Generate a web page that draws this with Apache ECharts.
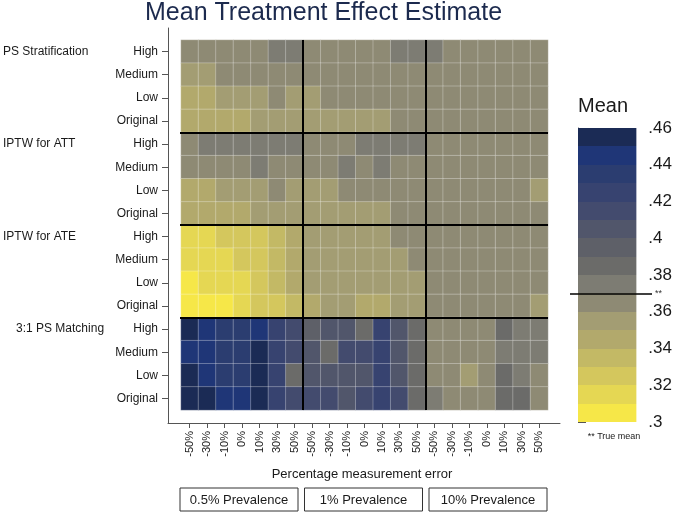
<!DOCTYPE html>
<html><head><meta charset="utf-8">
<script src="https://cdn.jsdelivr.net/npm/echarts@6/dist/echarts.min.js"></script>
<style>html,body{margin:0;padding:0;background:#fff}#c{width:675px;height:515px}</style>
</head><body><div id="c"></div>
<script>
// ---------- data ----------
const methods = ['PS Stratification', 'IPTW for ATT', 'IPTW for ATE', '3:1 PS Matching'];
const levels = ['High', 'Medium', 'Low', 'Original'];
const errorLabels = ['-50%', '-30%', '-10%', '0%', '10%', '30%', '50%'];
const prevalences = ['0.5% Prevalence', '1% Prevalence', '10% Prevalence'];

// each row: 21 values = 3 prevalences x 7 measurement-error levels
const psStratification = [
  [.366,.365,.366,.364,.366,.377,.376, .365,.366,.365,.366,.364,.377,.376, .376,.366,.365,.366,.365,.366,.365],
  [.355,.354,.365,.365,.366,.365,.364, .365,.365,.366,.365,.365,.364,.365, .365,.366,.365,.365,.366,.365,.365],
  [.345,.346,.357,.356,.356,.366,.354, .353,.365,.366,.365,.365,.365,.365, .365,.365,.366,.365,.365,.365,.365],
  [.343,.344,.343,.344,.355,.356,.355, .356,.353,.352,.353,.352,.365,.365, .365,.366,.365,.365,.365,.366,.365]
];
const iptwATT = [
  [.366,.377,.378,.377,.377,.378,.377, .366,.365,.366,.377,.376,.378,.377, .366,.365,.366,.365,.366,.365,.366],
  [.365,.366,.365,.366,.378,.366,.365, .365,.366,.377,.366,.377,.366,.365, .365,.366,.365,.365,.366,.365,.366],
  [.345,.345,.356,.355,.353,.366,.355, .356,.356,.368,.362,.362,.365,.366, .365,.366,.365,.365,.366,.365,.352],
  [.346,.345,.346,.347,.357,.358,.357, .356,.357,.356,.357,.352,.365,.366, .365,.365,.366,.365,.365,.366,.365]
];
const iptwATE = [
  [.314,.315,.325,.324,.326,.336,.345, .354,.355,.355,.354,.352,.365,.366, .365,.366,.365,.365,.366,.365,.365],
  [.315,.316,.316,.325,.326,.334,.346, .354,.355,.354,.355,.352,.352,.365, .365,.366,.365,.365,.365,.366,.365],
  [.305,.314,.316,.315,.325,.334,.345, .354,.355,.354,.354,.351,.352,.351, .365,.365,.366,.365,.365,.366,.365],
  [.305,.304,.306,.314,.324,.326,.335, .345,.352,.356,.345,.344,.352,.353, .365,.366,.365,.365,.366,.365,.352]
];
const psMatching = [
  [.455,.445,.435,.436,.445,.425,.415, .395,.405,.404,.386,.426,.405,.386, .366,.365,.365,.366,.385,.376,.375],
  [.445,.446,.435,.434,.455,.425,.416, .405,.386,.415,.414,.426,.405,.386, .366,.365,.366,.365,.376,.375,.376],
  [.456,.445,.435,.434,.455,.425,.386, .405,.404,.404,.405,.427,.405,.386, .366,.365,.355,.366,.385,.376,.365],
  [.456,.457,.445,.446,.455,.425,.415, .416,.415,.405,.416,.427,.415,.386, .376,.366,.365,.366,.385,.386,.365]
];

// colour bins of the legend (.30 to .46 in steps of .01)
const binEdges = [.30,.31,.32,.33,.34,.35,.36,.37,.38,.39,.40,.41,.42,.43,.44,.45,.46];
const binColors = ['#f6e748','#e5d753','#d4c75d','#c3b965','#b2a96c','#a39d73','#8e8a74','#7d7c73',
                   '#6b6b69','#5e6068','#51566b','#434b6e','#374370','#2b3d70','#1f3677','#1b2b55'];
const trueMean = 0.3675;

// ---------- build ----------
const blocks = [psStratification, iptwATT, iptwATE, psMatching];
const rowKeys = [];
methods.forEach(m => levels.forEach(l => rowKeys.push(m + '|' + l)));
const colKeys = [];
prevalences.forEach(p => errorLabels.forEach(e => colKeys.push(p + '|' + e)));
const heat = [];
blocks.forEach((blk, b) => blk.forEach((row, r) => row.forEach((v, c) => heat.push([c, b * 4 + r, v]))));
const pieces = binColors.map((col, i) => ({ gte: binEdges[i], lt: binEdges[i + 1], color: col }));
const bins = binColors.map((col, i) => [binEdges[i], binEdges[i + 1]]);

const FONT = 'Liberation Sans, Arial, Helvetica, sans-serif';
const TXT = '#1a1a1a';
const AX = '#555';

const chart = echarts.init(document.getElementById('c'), null, { renderer: 'canvas' });
const heatRect = { left: 180, top: 40, width: 368, height: 370 };
const barRect = { top: 128, height: 294 };

const boxes = [];
prevalences.forEach((p, i) => {
  const x = 180 + i * 124.5;
  boxes.push({ type: 'rect', shape: { x: x, y: 488, width: 118, height: 23 },
               style: { fill: '#fff', stroke: '#333', lineWidth: 1 }, silent: true });
  boxes.push({ type: 'text', x: x + 59, y: 500,
               style: { text: p, fill: TXT, font: '13px ' + FONT, align: 'center', verticalAlign: 'middle' }, silent: true });
});

const vmin = binEdges[0], vmax = binEdges[binEdges.length - 1];

chart.setOption({
  animation: false,
  backgroundColor: '#fff',
  title: {
    text: 'Mean Treatment Effect Estimate', left: 145, top: 1, padding: 0,
    textStyle: { fontFamily: FONT, fontSize: 25, fontWeight: 'normal', color: '#1c2a4e' }
  },
  grid: [
    Object.assign({}, heatRect),
    { left: 168, top: 28, width: 392, height: 395 },
    Object.assign({}, heatRect),
    Object.assign({ left: 578, width: 59 }, barRect),
    Object.assign({ left: 570, width: 82 }, barRect)
  ],
  xAxis: [
    { type: 'category', gridIndex: 0, data: colKeys, position: 'bottom', offset: 13,
      axisLine: { show: false }, splitLine: { show: false },
      axisTick: { show: true, alignWithLabel: true, interval: 0, length: 5, lineStyle: { color: AX } },
      axisLabel: { interval: 0, rotate: 90, fontSize: 11, margin: 8, color: TXT, fontFamily: FONT,
                   formatter: v => v.split('|')[1] } },
    { type: 'value', gridIndex: 1, min: 0, max: 1, position: 'bottom',
      axisLine: { show: true, lineStyle: { color: AX, width: 1 } }, axisTick: { show: false },
      axisLabel: { show: false }, splitLine: { show: false } },
    { type: 'value', gridIndex: 2, min: 0, max: colKeys.length, show: false },
    { type: 'value', gridIndex: 3, min: 0, max: 1, show: false },
    { type: 'value', gridIndex: 4, min: 0, max: 1, show: false }
  ],
  yAxis: [
    { type: 'category', gridIndex: 0, data: rowKeys, inverse: true, offset: 12,
      axisLine: { show: false }, splitLine: { show: false },
      axisTick: { show: true, alignWithLabel: true, interval: 0, length: 7, lineStyle: { color: AX } },
      axisLabel: { interval: 0, fontSize: 12, margin: 11, color: TXT, fontFamily: FONT,
                   formatter: v => v.split('|')[1] } },
    { type: 'category', gridIndex: 0, data: rowKeys, inverse: true, offset: 12, position: 'left',
      axisLine: { show: false }, axisTick: { show: false }, splitLine: { show: false },
      axisLabel: { interval: 0, fontSize: 12, margin: 166, align: 'left', color: TXT, fontFamily: FONT,
                   formatter: (v, i) => {
                     const [m, l] = v.split('|');
                     if (l !== levels[0]) return '';
                     return i === rowKeys.length - levels.length ? '{ind|' + m + '}' : m;
                   },
                   rich: { ind: { padding: [0, 0, 0, 13], fontSize: 12, color: TXT, fontFamily: FONT } } } },
    { type: 'value', gridIndex: 1, min: 0, max: 1, position: 'left',
      axisLine: { show: true, lineStyle: { color: AX, width: 1 } }, axisTick: { show: false },
      axisLabel: { show: false }, splitLine: { show: false } },
    { type: 'value', gridIndex: 2, min: 0, max: rowKeys.length, inverse: true, show: false },
    { type: 'value', gridIndex: 3, min: vmin, max: vmax, interval: 0.02, position: 'right',
      axisLine: { show: true, lineStyle: { color: AX, width: 1 } },
      axisTick: { show: true, length: 8, lineStyle: { color: AX } },
      splitLine: { show: false },
      axisLabel: { fontSize: 17, margin: 12, color: TXT, fontFamily: FONT,
                   formatter: v => String(+v.toFixed(2)).replace(/^0\./, '.') } },
    { type: 'value', gridIndex: 4, min: vmin, max: vmax, show: false }
  ],
  visualMap: {
    type: 'piecewise', show: false, seriesIndex: 0, dimension: 2, pieces: pieces
  },
  series: [
    { type: 'heatmap', xAxisIndex: 0, yAxisIndex: 0, data: heat, silent: true,
      itemStyle: { borderColor: 'rgba(255,255,255,0.28)', borderWidth: 1 },
      emphasis: { disabled: true } },
    { type: 'line', xAxisIndex: 2, yAxisIndex: 3, data: [], silent: true, symbol: 'none',
      markLine: { silent: true, symbol: 'none', animation: false,
        label: { show: false },
        lineStyle: { color: '#000', width: 2, type: 'solid' },
        data: [
          { xAxis: errorLabels.length }, { xAxis: errorLabels.length * 2 },
          { yAxis: levels.length }, { yAxis: levels.length * 2 }, { yAxis: levels.length * 3 }
        ] } },
    { type: 'custom', xAxisIndex: 3, yAxisIndex: 4, data: bins, silent: true,
      encode: { y: [0, 1] },
      renderItem: (params, api) => {
        const lo = api.value(0), hi = api.value(1);
        const y0 = Math.round(api.coord([0, hi])[1]), y1 = Math.round(api.coord([0, lo])[1]);
        const cs = params.coordSys;
        return { type: 'rect', shape: { x: cs.x, y: y0, width: cs.width, height: y1 - y0 },
                 style: { fill: binColors[params.dataIndex] } };
      } },
    { type: 'line', xAxisIndex: 4, yAxisIndex: 5, data: [], silent: true, symbol: 'none',
      markLine: { silent: true, symbol: 'none', animation: false,
        lineStyle: { color: '#000', width: 1.5, type: 'solid' },
        label: { show: true, position: 'end', formatter: '**', fontSize: 9, color: '#333', distance: 3 },
        data: [{ yAxis: trueMean }] } }
  ],
  graphic: [
    { type: 'text', x: 578, y: 106, silent: true,
      style: { text: 'Mean', fill: TXT, font: '20px ' + FONT, align: 'left', verticalAlign: 'middle' } },
    { type: 'text', x: 614, y: 437, silent: true,
      style: { text: '** True mean', fill: TXT, font: '9px ' + FONT, align: 'center', verticalAlign: 'middle' } },
    { type: 'text', x: 362, y: 474, silent: true,
      style: { text: 'Percentage measurement error', fill: TXT, font: '13px ' + FONT, align: 'center', verticalAlign: 'middle' } }
  ].concat(boxes)
});
</script>
</body></html>
